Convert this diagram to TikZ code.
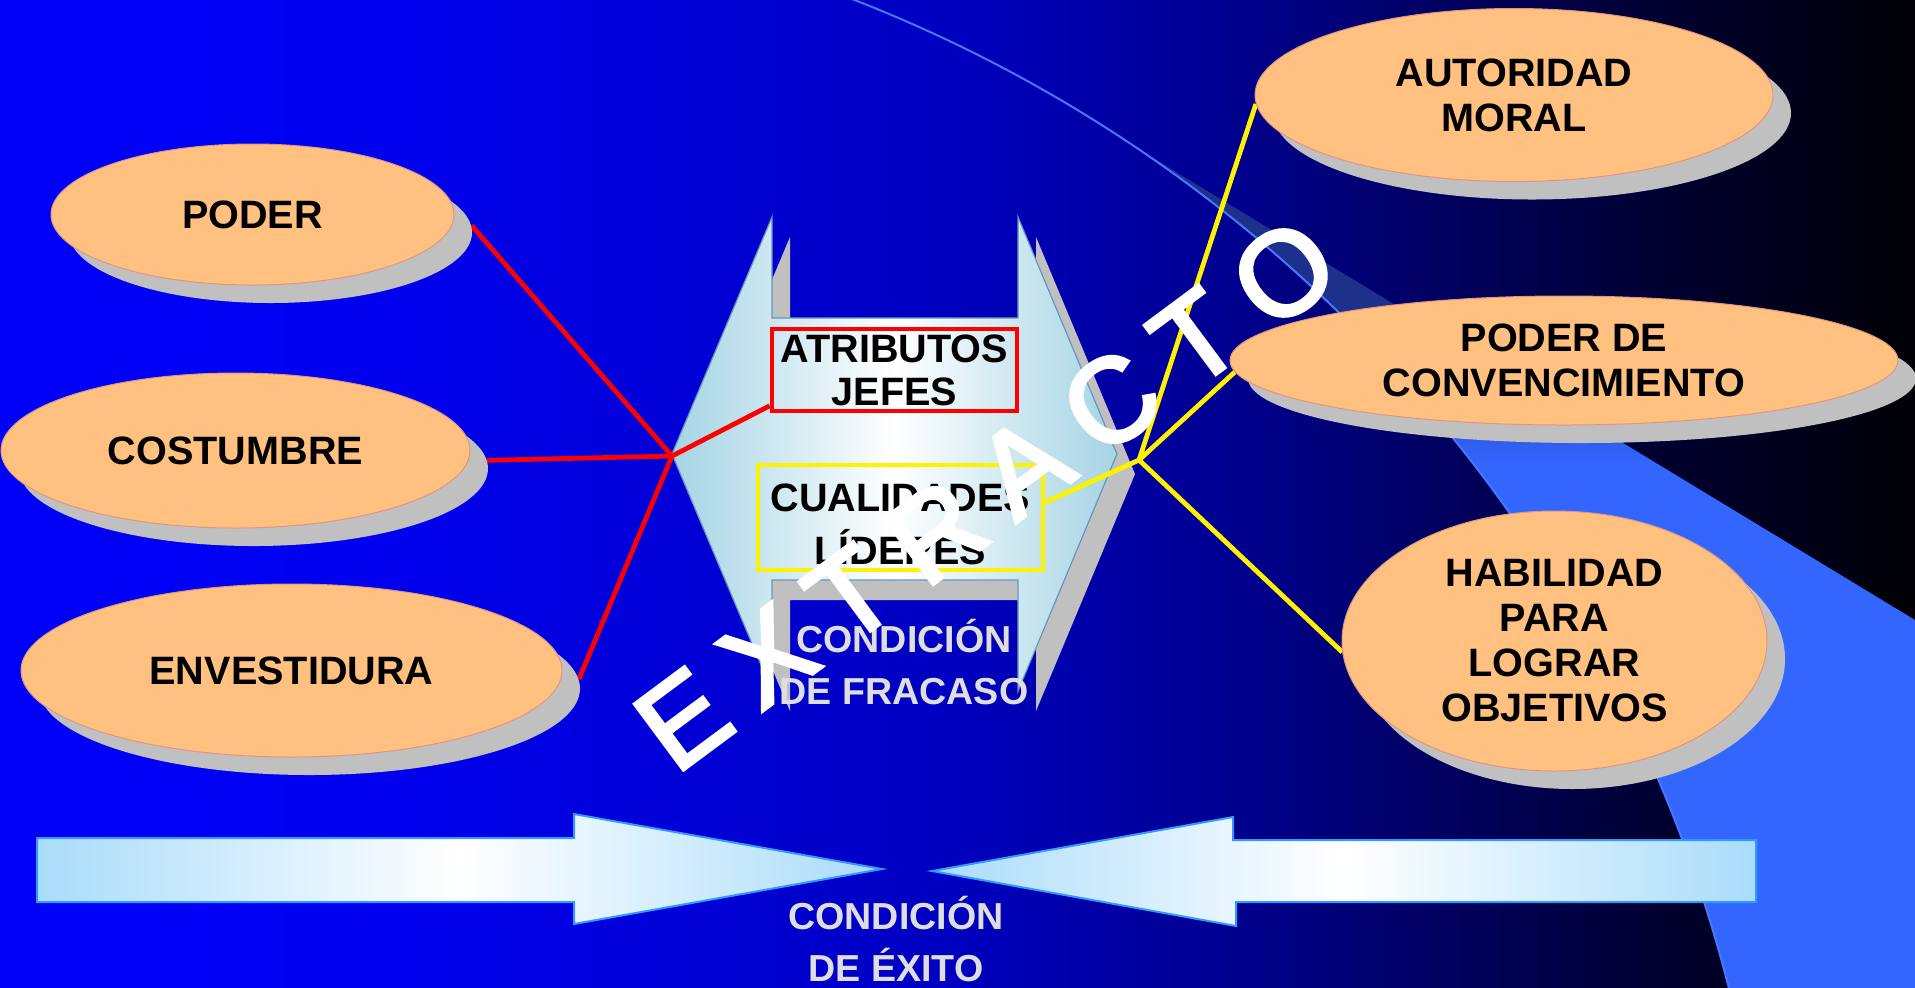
\documentclass[tikz,border=0pt]{standalone}
\usepackage{fontspec}
\setmainfont{Liberation Sans}
\newfontfamily\wmfont[FakeBold=3]{Liberation Sans}
\usetikzlibrary{shapes.geometric,shadows}
\definecolor{peach}{RGB}{255,192,128}
\definecolor{peachline}{RGB}{222,150,130}
\definecolor{shadowgray}{RGB}{192,192,192}
\definecolor{swbright}{RGB}{51,102,255}
\definecolor{swmid}{RGB}{40,75,200}
\definecolor{swdark}{RGB}{28,48,140}
\definecolor{swedge}{RGB}{70,120,255}
\definecolor{lbarrow}{RGB}{170,220,250}
\definecolor{lbshape}{RGB}{165,212,228}
\definecolor{shapeline}{RGB}{100,150,190}
\definecolor{arrline}{RGB}{51,153,255}
\definecolor{captext}{RGB}{222,222,222}
\definecolor{bgA}{RGB}{0,0,250}
\definecolor{bgB}{RGB}{0,0,238}
\definecolor{bgC}{RGB}{0,0,192}
\definecolor{bgD}{RGB}{0,0,145}
\definecolor{bgE}{RGB}{0,0,90}
\definecolor{bgF}{RGB}{0,0,50}
\definecolor{bgG}{RGB}{0,0,5}
\pgfdeclarehorizontalshading{bgshade}{100bp}{color(0bp)=(bgA); color(25bp)=(bgA); color(35.4bp)=(bgB); color(49.8bp)=(bgC); color(56.9bp)=(bgD); color(63.4bp)=(bgE); color(68.1bp)=(bgF); color(75bp)=(bgG); color(100bp)=(bgG)}
\pgfdeclarehorizontalshading{arrowshade}{100bp}{color(0bp)=(lbarrow); color(25bp)=(lbarrow); color(50bp)=(white); color(75bp)=(lbarrow); color(100bp)=(lbarrow)}
\pgfdeclarehorizontalshading{shapeshade}{100bp}{color(0bp)=(lbshape); color(25bp)=(lbshape); color(50bp)=(white); color(75bp)=(lbshape); color(100bp)=(lbshape)}
\pgfdeclareverticalshading{swooshshade}{100bp}{color(0bp)=(swbright); color(56bp)=(swbright); color(60bp)=(swmid); color(65bp)=(swdark); color(100bp)=(swdark)}
\pgfdeclarelayer{bg}
\pgfdeclarelayer{lines}
\pgfsetlayers{bg,lines,main}
\newcommand\wmgap{\kern13.3pt}
\begin{document}
\begin{tikzpicture}[x=0.5pt,y=-0.5pt,
  ell/.style={ellipse, fill=peach, draw=peachline, line width=0.5pt, inner sep=0pt,
    font=\fontsize{19.8}{22.5}\selectfont\bfseries, align=center, text=black,
    drop shadow={shadow xshift=9pt, shadow yshift=-9pt, opacity=1, fill=shadowgray}},
  boxframe/.style={rectangle, line width=2.4pt, inner sep=0pt},
  boxtext/.style={inner sep=0pt, align=center, text=black},
  redline/.style={draw=red, line width=2.4pt},
  yelline/.style={draw=yellow, line width=2.4pt},
  caption/.style={font=\fontsize{18.8}{26}\selectfont\bfseries, text=captext, align=center, inner sep=0pt},
  arrowshape/.style={shading=arrowshade, draw=arrline, line width=1pt}]
\useasboundingbox (0,0) rectangle (1915,987);
\begin{pgfonlayer}{bg}
  \shade[shading=bgshade] (0,0) rectangle (1915,987);
  \begin{scope}
    \clip (0,0) rectangle (1915,987);
    \shade[shading=swooshshade] (1115,135) -- (1915,620) -- (1915,1000) -- (1732,1000)
      arc[start angle=-13.85, end angle=-57, radius=1445] -- cycle;
    \draw[swedge, line width=1pt] (846.8,-3) arc[start angle=-69, end angle=-13.85, radius=1445];
  \end{scope}
  % central double arrow shape with shadow
  \fill[shadowgray, shift={(18,20)}] (772,217) -- (672,454) -- (772,691) -- (772,580) -- (1018,580)
    -- (1018,691) -- (1117,454) -- (1018,217) -- (1018,318) -- (772,318) -- cycle;
  \shadedraw[shading=shapeshade, draw=shapeline, line width=0.6pt] (772,217) -- (672,454) -- (772,691)
    -- (772,580) -- (1018,580) -- (1018,691) -- (1117,454) -- (1018,217) -- (1018,318) -- (772,318) -- cycle;
  % bottom arrows
  \shadedraw[arrowshape] (37,838) -- (574,838) -- (574,814) -- (882,869) -- (574,924)
    -- (574,902) -- (37,902) -- cycle;
  \shadedraw[arrowshape] (1756,840) -- (1233,840) -- (1233,817) -- (932,871) -- (1236,926)
    -- (1236,902) -- (1756,902) -- cycle;
\end{pgfonlayer}
% ellipses
\node[ell, minimum width=201.5pt, minimum height=70.5pt] (poder) at (252.5,214.5) {PODER};
\node[ell, minimum width=234.5pt, minimum height=77.5pt] (cost) at (235.5,450.5) {COSTUMBRE};
\node[ell, minimum width=270.5pt, minimum height=86.5pt] (envest) at (291.5,670.5) {ENVESTIDURA};
\node[ell, minimum width=259pt, minimum height=86.5pt] (autor) at (1514,95) {AUTORIDAD\\MORAL};
\node[ell, minimum width=334pt, minimum height=64.5pt] (conv) at (1564,360.5) {PODER DE\\CONVENCIMIENTO};
\node[ell, minimum width=212.5pt, minimum height=130pt] (habil) at (1554.5,641) {HABILIDAD\\PARA\\LOGRAR\\OBJETIVOS};
% boxes in the central shape
\node[boxframe, draw=red, minimum width=122.5pt, minimum height=41pt] (atr) at (894.5,370) {};
\node[boxtext, font=\fontsize{19.8}{21.5}\selectfont\bfseries] (atrtext) at (894.5,370) {ATRIBUTOS\\JEFES};
\node[boxframe, draw=yellow, minimum width=142.5pt, minimum height=52.5pt] (cua) at (900.5,517.5) {};
\node[boxtext, font=\fontsize{19.8}{26.5}\selectfont\bfseries] (cuatext) at (900.5,524) {CUALIDADES\\LÍDERES};
\node[caption] (fracaso) at (904,662) {CONDICIÓN\\DE FRACASO};
\node[caption] (exito) at (896,939) {CONDICIÓN\\DE ÉXITO};
% junctions and connectors
\coordinate (jr) at (672,456);
\coordinate (jy) at (1139,460);
\begin{pgfonlayer}{lines}
  \draw[redline] (jr) -- ([shift={(18,18)}]poder.2);
  \draw[redline] (jr) -- ([shift={(18,18)}]cost.2);
  \draw[redline] (jr) -- ([shift={(18,18)}]envest.2);
  \draw[redline] (jr) -- (atr.196);
  \draw[yelline] (jy) -- (autor.182);
  \draw[yelline] (jy) -- (conv.182);
  \draw[yelline] (jy) -- (habil.183);
  \draw[yelline] (jy) -- (cua.6);
\end{pgfonlayer}
% watermark
\node[rotate=36.6, text=white, inner sep=0pt, font=\wmfont\fontsize{59.5}{59.5}\selectfont] (wm) at (986,494)
  {E\wmgap X\wmgap T\wmgap R\wmgap A\wmgap C\wmgap T\wmgap O};
\end{tikzpicture}
\end{document}
